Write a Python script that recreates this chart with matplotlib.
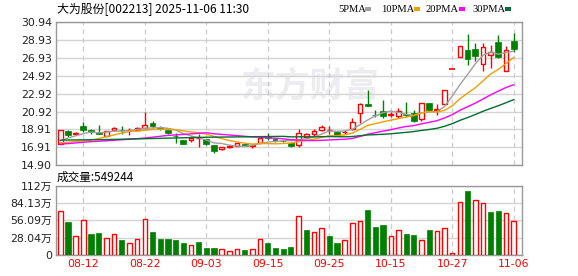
import numpy as np
import pandas as pd
import matplotlib
matplotlib.use("Agg")
import matplotlib.pyplot as plt
from matplotlib.patches import Rectangle

plt.rcParams['font.family'] = ['DejaVu Sans', 'Noto Sans CJK SC']

title = "大为股份[002213] 2025-11-06 11:30"
vol_label = "成交量:549244"

# daily candles, 2025-08-07 .. 2025-11-06 (60 trading days)
opens = [17.30, 18.70, 18.42, 19.35, 18.80, 18.65, 18.20, 18.80, 18.90, 18.82,
         18.85, 19.05, 19.65, 19.20, 18.85, 18.20, 17.75, 17.75, 17.90, 17.80,
         17.15, 16.70, 16.90, 17.10, 17.30, 17.10, 17.40, 18.20, 17.72, 17.65,
         17.35, 17.15, 18.10, 18.35, 18.80, 18.85, 18.60, 18.60, 18.95, 20.80,
         21.75, 20.55, 21.00, 20.55, 20.45, 20.60, 20.80, 20.05, 21.85, 21.10,
         21.75, 25.69, 27.05, 27.80, 27.90, 26.20, 27.20, 28.65, 25.50, 28.80]
highs = [18.85, 18.85, 18.60, 19.75, 18.93, 19.40, 18.75, 19.20, 19.30, 19.10,
         19.15, 20.90, 19.89, 19.35, 18.90, 18.50, 17.75, 18.20, 18.40, 17.85,
         17.20, 17.00, 17.15, 17.45, 17.35, 17.25, 18.10, 18.50, 17.85, 17.70,
         17.40, 18.95, 18.50, 18.95, 19.40, 19.30, 18.70, 18.90, 20.15, 21.85,
         23.35, 21.10, 22.20, 20.90, 21.35, 22.00, 21.10, 21.90, 21.90, 21.80,
         23.35, 25.69, 28.26, 29.65, 28.60, 28.55, 28.40, 29.50, 28.30, 29.75]
lows = [17.30, 18.10, 18.35, 18.60, 18.44, 18.35, 18.15, 18.75, 18.45, 18.30,
        18.80, 19.00, 19.10, 18.90, 18.45, 17.35, 17.30, 17.55, 17.00, 17.20,
        16.30, 16.60, 16.80, 17.05, 17.05, 16.85, 17.35, 17.70, 17.50, 17.50,
        16.95, 17.00, 17.90, 18.20, 18.70, 18.40, 18.15, 18.40, 18.85, 19.60,
        21.50, 20.30, 20.20, 20.30, 20.25, 20.35, 19.75, 19.90, 21.00, 20.50,
        21.60, 25.69, 27.05, 26.10, 26.60, 25.40, 25.75, 26.95, 25.40, 27.60]
closes = [18.85, 18.30, 18.47, 18.90, 18.60, 18.40, 18.70, 19.10, 18.80, 18.90,
          19.05, 19.40, 19.25, 19.00, 18.50, 18.15, 17.30, 18.00, 17.95, 17.25,
          16.55, 16.95, 17.10, 17.40, 17.10, 17.15, 17.95, 17.90, 17.70, 17.60,
          17.10, 18.50, 18.40, 18.75, 19.20, 18.90, 18.20, 18.65, 19.70, 21.75,
          21.55, 20.50, 20.45, 20.60, 21.00, 20.50, 19.90, 21.85, 21.10, 21.20,
          23.35, 25.69, 28.26, 26.85, 27.15, 28.10, 27.60, 27.00, 27.75, 27.95]
# volume in 万 (10k)
volumes = [70.8, 53.4, 30.0, 56.1, 33.8, 35.4, 26.8, 33.8, 24.0, 18.6,
           25.1, 57.8, 37.0, 25.6, 25.6, 24.0, 19.1, 15.3, 20.7, 10.9,
           10.9, 8.8, 5.5, 9.8, 7.7, 8.8, 25.1, 19.1, 10.9, 9.3,
           12.6, 62.6, 40.3, 36.5, 43.0, 30.5, 19.1, 23.5, 51.2, 54.5,
           73.0, 45.2, 48.5, 30.0, 39.8, 33.8, 32.1, 23.5, 40.3, 38.2,
           43.0, 2.8, 85.5, 104.0, 88.8, 83.9, 69.7, 71.3, 67.6, 54.92]

# moving-average values at the start of the window (earlier data not shown)
ma5_head = [17.65, 17.95, 18.20, 18.45]
ma10_head = [17.42, 17.48, 17.56, 17.64, 17.73, 17.90, 18.10, 18.30, 18.50]
ma20_head = [17.28, 17.33, 17.40, 17.48, 17.55, 17.60, 17.65, 17.70, 17.76, 17.82,
             17.88, 17.95, 18.05, 18.15, 18.25, 18.30, 18.36, 18.42, 18.48]
ma30_head = [17.72, 17.73, 17.74, 17.75, 17.76, 17.77, 17.78, 17.80, 17.82, 17.84,
             17.86, 17.88, 17.90, 17.92, 17.94, 17.96, 17.98, 18.00, 18.02, 18.04,
             18.05, 18.06, 18.07, 18.08, 18.09, 18.10, 18.11, 18.12, 18.13]

date_ticks = [3, 11, 19, 27, 35, 43, 51, 59]
date_labels = ["08-12", "08-22", "09-03", "09-15", "09-25", "10-15", "10-27", "11-06"]

price_ticks = [14.90, 16.91, 18.91, 20.92, 22.92, 24.92, 26.93, 28.93, 30.94]
vol_ticks = [0, 28.04, 56.09, 84.13, 112.17]
vol_tick_labels = ["0", "28.04万", "56.09万", "84.13万", "112万"]

RED = "#ff0000"
GREEN = "#008000"
ma_styles = [("5PMA", 5, ma5_head, "#a0a0a0"),
             ("10PMA", 10, ma10_head, "#f0a000"),
             ("20PMA", 20, ma20_head, "#ff00ff"),
             ("30PMA", 30, ma30_head, "#006f30")]
legend_text_x = [338, 381, 426, 472]
legend_mark_x = [365, 414, 459, 505]

o = np.array(opens)
h = np.array(highs)
l = np.array(lows)
c = np.array(closes)
v = np.array(volumes)
x = np.arange(len(c))


def moving_avg(n, head):
    ma = pd.Series(c).rolling(n).mean().to_numpy()
    ma[:n - 1] = head
    return ma


W, H = 578, 276
fig = plt.figure(figsize=(W / 100, H / 100), dpi=100)
ax = fig.add_axes([56 / W, 1 - 165.3 / H, 466 / W, 143.3 / H])
axv = fig.add_axes([56 / W, 1 - 254.7 / H, 466 / W, 68.7 / H])

for a in (ax, axv):
    a.set_xlim(-0.56, 60.08)
    a.set_axisbelow(True)
    for s in a.spines.values():
        s.set_color("#999999")
        s.set_linewidth(1)
    a.tick_params(length=0, labelsize=7.8, colors="#222222", pad=3)
    a.grid(axis="y", color="#d4d4d4", lw=1, ls="-")
    for t in date_ticks:
        a.axvline(t, color="#cccccc", lw=0.9, ls=(0, (4, 3)), zorder=0.6)

# watermark
ax.text(0.545, 0.55, "东方财富", transform=ax.transAxes, fontsize=25, fontweight="bold",
        color="#ededf1", ha="center", va="center", family=["Noto Sans CJK SC"], zorder=0.1)

# candles
up = c > o
body_lo = np.minimum(o, c)
body_h = np.abs(c - o)
ax.vlines(x, l, h, color=np.where(up | (c == o), RED, GREEN), lw=1, zorder=2)
ax.bar(x[up], body_h[up], bottom=body_lo[up], width=0.62, facecolor="white",
       edgecolor=RED, lw=1, zorder=3)
flat = ~up & (body_h < 0.03)
ax.bar(x[flat], 0, bottom=body_lo[flat], width=0.72,
       edgecolor=np.where(c[flat] == o[flat], RED, GREEN), lw=1.2, zorder=3)
down = ~up & ~flat
ax.bar(x[down], body_h[down], bottom=body_lo[down], width=0.75, facecolor=GREEN,
       edgecolor=GREEN, lw=0.5, zorder=3)

for name, n, head, col in ma_styles:
    ax.plot(x, moving_avg(n, head), color=col, lw=1, zorder=4)

ax.set_ylim(price_ticks[0], price_ticks[-1])
ax.set_yticks(price_ticks)
ax.set_yticklabels([f"{p:.2f}" for p in price_ticks])
ax.set_xticks([])

# volume, coloured by change against the previous close
prev = np.r_[c[0] - 1, c[:-1]]
vup = c >= prev
axv.bar(x[vup], v[vup], width=0.58, facecolor="white", edgecolor=RED, lw=1, zorder=3)
axv.bar(x[~vup], v[~vup], width=0.68, facecolor=GREEN, edgecolor=GREEN, lw=0.5, zorder=3)
axv.set_ylim(0, vol_ticks[-1])
axv.set_yticks(vol_ticks)
axv.set_yticklabels(vol_tick_labels)
axv.set_xticks(date_ticks)
axv.set_xticklabels(date_labels, color=RED, fontsize=7.8)
axv.tick_params(axis="x", pad=3)

# header texts
fig.text(57 / W, 1 - 9 / H, title, fontsize=8.6, va="center", ha="left",
         family=["Noto Sans CJK SC", "DejaVu Sans"])
fig.text(57 / W, 1 - 177 / H, vol_label, fontsize=8.4, va="center", ha="left",
         family=["Noto Sans CJK SC", "DejaVu Sans"])

for (name, n, head, col), tx, mx in zip(ma_styles, legend_text_x, legend_mark_x):
    fig.text(tx / W, 1 - 9 / H, name, fontsize=7.6, va="center", ha="left",
             family=["Liberation Serif"])
    fig.patches.append(Rectangle((mx / W, 1 - 10.5 / H), 6 / W, 3 / H,
                                 facecolor=col, edgecolor="none", transform=fig.transFigure))

fig.savefig("out.png", dpi=100)
